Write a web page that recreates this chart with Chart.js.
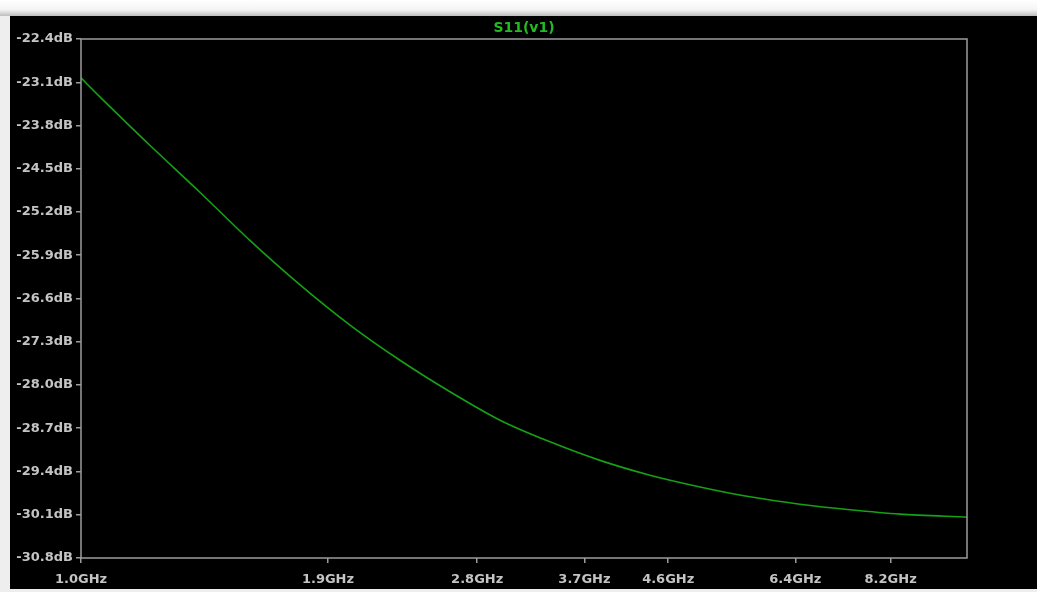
<!DOCTYPE html>
<html>
<head>
<meta charset="utf-8">
<title>S11(v1)</title>
<script src="https://cdn.jsdelivr.net/npm/chart.js@4.4.1/dist/chart.umd.min.js"></script>
<style>
  html, body { margin: 0; padding: 0; }
  body { width: 1037px; height: 592px; background: #eeeeee; position: relative; overflow: hidden; }
  #topbar { position: absolute; left: 0; top: 0; width: 1037px; height: 16px;
            background: linear-gradient(#ffffff 0%, #f4f4f4 60%, #bdbdbd 100%); }
  #plot { position: absolute; left: 10px; top: 16px; width: 1027px; height: 573px; background: #000; }
  canvas { display: block; }
</style>
</head>
<body>
<div id="topbar"></div>
<div id="plot"><canvas id="c" width="1027" height="573"></canvas></div>
<script>
// Frequency sweep (GHz) and the S11 magnitude (dB) at each frequency
const freqGHz = [1.000, 1.051, 1.196, 1.362, 1.551, 1.767, 2.012, 2.291, 2.609, 2.971,
                 3.383, 3.853, 4.387, 4.996, 5.689, 6.478, 7.378, 8.401, 10.000];
const s11dB   = [-23.03, -23.34, -24.12, -24.88, -25.66, -26.38, -27.03, -27.60, -28.11, -28.57,
                 -28.92, -29.22, -29.46, -29.65, -29.81, -29.93, -30.02, -30.09, -30.14];

// Axis tick positions
const xTicksGHz = [1.0, 1.9, 2.8, 3.7, 4.6, 6.4, 8.2];
const yTicksDB  = [-30.8, -30.1, -29.4, -28.7, -28.0, -27.3, -26.6, -25.9, -25.2, -24.5, -23.8, -23.1, -22.4];

const traceName = 'S11(v1)';
const axisGrey = '#9c9c9c';
const labelGrey = '#c4c4c4';
const traceGreen = '#16a016';
const titleGreen = '#22bb22';
const labelFont = { family: 'DejaVu Sans', size: 13, weight: 'bold' };

// Closed frame round the plot area, with the trace name centred above it
const framePlugin = {
  id: 'frame',
  afterDraw(chart) {
    const { ctx, chartArea: a } = chart;
    ctx.save();
    ctx.strokeStyle = axisGrey;
    ctx.lineWidth = 1.5;
    ctx.strokeRect(a.left, a.top, a.right - a.left, a.bottom - a.top);
    ctx.fillStyle = titleGreen;
    ctx.font = 'bold 14px "DejaVu Sans"';
    ctx.textAlign = 'center';
    ctx.textBaseline = 'middle';
    ctx.fillText(traceName, (a.left + a.right) / 2, a.top - 11);
    ctx.restore();
  }
};

new Chart(document.getElementById('c'), {
  type: 'line',
  data: {
    datasets: [{
      label: traceName,
      data: freqGHz.map((f, i) => ({ x: f, y: s11dB[i] })),
      borderColor: traceGreen,
      borderWidth: 1.6,
      pointRadius: 0,
      tension: 0.3,
      fill: false
    }]
  },
  options: {
    responsive: false,
    animation: false,
    layout: { padding: { left: 0, right: 70, top: 23, bottom: 0 } },
    plugins: {
      legend: { display: false },
      tooltip: { enabled: false },
      title: { display: false }
    },
    scales: {
      x: {
        type: 'logarithmic',
        min: 1,
        max: 10,
        border: { display: false },
        grid: { drawOnChartArea: false, drawTicks: true, tickLength: 5, color: axisGrey, lineWidth: 1.5 },
        ticks: {
          color: labelGrey,
          font: labelFont,
          padding: 9,
          autoSkip: false,
          maxRotation: 0,
          callback: (v) => Number(v).toFixed(1) + 'GHz'
        },
        afterBuildTicks: (scale) => { scale.ticks = xTicksGHz.map(v => ({ value: v })); },
        afterFit: (scale) => { scale.height = 31; }
      },
      y: {
        type: 'linear',
        min: -30.8,
        max: -22.4,
        border: { display: false },
        grid: { drawOnChartArea: false, drawTicks: true, tickLength: 5, color: axisGrey, lineWidth: 1.5 },
        ticks: {
          color: labelGrey,
          font: labelFont,
          padding: 3,
          autoSkip: false,
          callback: (v) => Number(v).toFixed(1) + 'dB'
        },
        afterBuildTicks: (scale) => { scale.ticks = yTicksDB.map(v => ({ value: v })); },
        afterFit: (scale) => { scale.width = 71; }
      }
    }
  },
  plugins: [framePlugin]
});
</script>
</body>
</html>
